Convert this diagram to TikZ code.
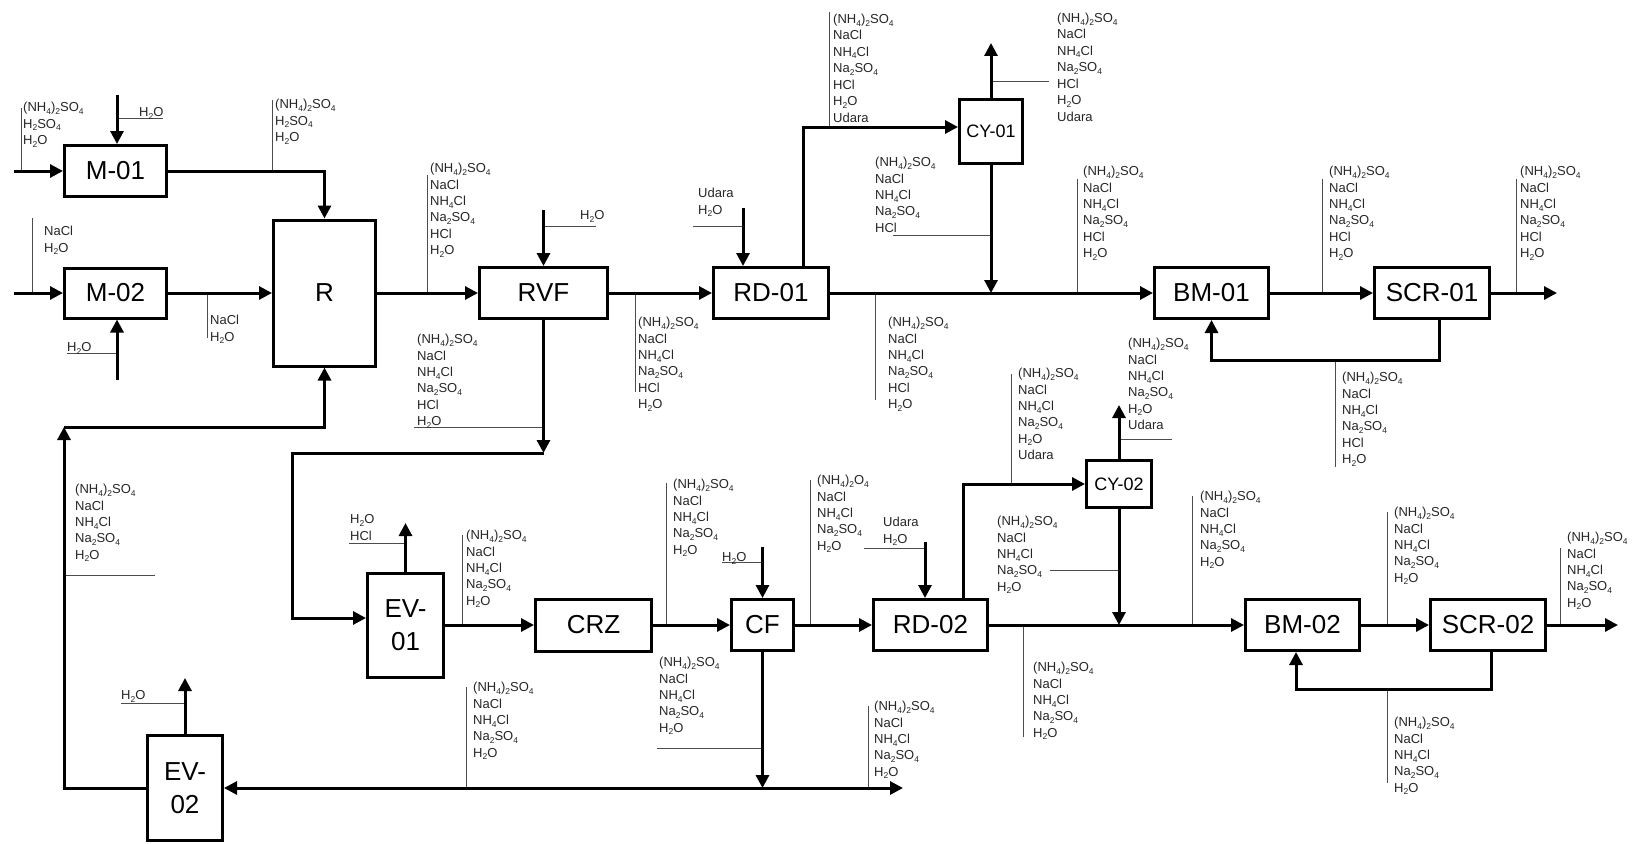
\documentclass[tikz,border=0pt]{standalone}
\usepackage{fontspec}
\setmainfont{Liberation Sans}
\usetikzlibrary{arrows.meta}
\newcommand{\ssb}[1]{\raisebox{-2.6pt}{\fontsize{8.5}{9}\selectfont #1}}
\newcommand{\cAS}{(NH\ssb{4})\ssb{2}SO\ssb{4}}
\newcommand{\cAO}{(NH\ssb{4})\ssb{2}O\ssb{4}}
\newcommand{\cNHCl}{NH\ssb{4}Cl}
\newcommand{\cNaSO}{Na\ssb{2}SO\ssb{4}}
\newcommand{\cHO}{H\ssb{2}O}
\newcommand{\cHSO}{H\ssb{2}SO\ssb{4}}
\newcommand{\stk}[4]{\foreach \t [count=\i] in {#4} {\node[lbl] (#1-\i) at ({#2},{#3+4.6+(\i-1)*16.4}) {\t};}}
\begin{document}
\begin{tikzpicture}[x=1pt,y=-1pt,
  box/.style={draw, line width=3pt, inner sep=0pt, align=center, font=\fontsize{26}{33}\selectfont},
  cy/.style={box, font=\fontsize{18}{20}\selectfont},
  arr/.style={line width=3pt, -{Triangle[length=13pt,width=13pt]}},
  tag/.style={line width=1pt, draw=black!70},
  lbl/.style={anchor=base west, inner sep=0pt, font=\fontsize{13}{15}\selectfont, text=black!85}]
\useasboundingbox[fill=white] (0,0) rectangle (1640,843);

% equipment
\node[box, minimum width=102pt, minimum height=51pt] (M01) at (115.5,171) {M-01};
\node[box, minimum width=102pt, minimum height=50pt] (M02) at (115.5,293) {M-02};
\node[box, minimum width=102pt, minimum height=146pt] (R) at (324.5,293) {R};
\node[box, minimum width=128pt, minimum height=51pt] (RVF) at (543.5,293) {RVF};
\node[box, minimum width=115pt, minimum height=51pt] (RD01) at (771,293) {RD-01};
\node[cy, minimum width=63pt, minimum height=64pt] (CY01) at (991,131.5) {CY-01};
\node[box, minimum width=114pt, minimum height=51pt] (BM01) at (1211.5,293) {BM-01};
\node[box, minimum width=115pt, minimum height=51pt] (SCR01) at (1432,293) {SCR-01};
\node[box, minimum width=76pt, minimum height=104pt] (EV01) at (405.5,625) {EV-\\01};
\node[box, minimum width=116pt, minimum height=52pt] (CRZ) at (593.5,625) {CRZ};
\node[box, minimum width=62pt, minimum height=51pt] (CF) at (762.5,625) {CF};
\node[box, minimum width=114pt, minimum height=51pt] (RD02) at (930.5,625) {RD-02};
\node[cy, minimum width=65pt, minimum height=47pt] (CY02) at (1119,484) {CY-02};
\node[box, minimum width=114pt, minimum height=51pt] (BM02) at (1302.5,625) {BM-02};
\node[box, minimum width=115pt, minimum height=51pt] (SCR02) at (1488,625) {SCR-02};
\node[box, minimum width=75pt, minimum height=105pt] (EV02) at (185,788) {EV-\\02};

% coordinates
\coordinate (in1) at (14,171);
\coordinate (in2) at (14,293);
\coordinate (h1) at (117,95);
\coordinate (h2) at (117,380);
\coordinate (h4) at (543.5,210);
\coordinate (u1) at (743,208);
\coordinate (rd1t) at (803,127);
\coordinate (cy1o) at (991,43);
\coordinate (cy1j) at (991,293);
\coordinate (o1) at (1557,293);
\coordinate (l1a) at (1439,360);
\coordinate (rv) at (543.5,453);
\coordinate (k1) at (292,453);
\coordinate (k2) at (292,618);
\coordinate (e1o) at (405.5,523);
\coordinate (h3) at (762.5,547);
\coordinate (u2) at (925,542);
\coordinate (rd2t) at (963,484);
\coordinate (cy2o) at (1119,405);
\coordinate (cy2j) at (1119,625);
\coordinate (o2) at (1618,625);
\coordinate (l2a) at (1491,689);
\coordinate (l2b) at (1296,689);
\coordinate (cfj) at (762.5,788);
\coordinate (botR) at (903,788);
\coordinate (e2o) at (185,678);
\coordinate (lc) at (64,427);

% tag lines
\draw[tag] (21,108) -- (21,171);
\draw[tag] (117,118) -- (163,118);
\draw[tag] (272,100) -- (272,171);
\draw[tag] (32,218) -- (32,293);
\draw[tag] (67,353) -- (117,353);
\draw[tag] (207,293) -- (207,338);
\draw[tag] (427,175) -- (427,293);
\draw[tag] (544,226) -- (596,226);
\draw[tag] (693,226) -- (743,226);
\draw[tag] (635,293) -- (635,392);
\draw[tag] (414,427) -- (544,427);
\draw[tag] (829,12) -- (829,127);
\draw[tag] (991,81) -- (1049,81);
\draw[tag] (893,235) -- (991,235);
\draw[tag] (875,293) -- (875,400);
\draw[tag] (1077,179) -- (1077,293);
\draw[tag] (1322,179) -- (1322,293);
\draw[tag] (1516,179) -- (1516,293);
\draw[tag] (1335,360) -- (1335,467);
\draw[tag] (64,575) -- (155,575);
\draw[tag] (121,703) -- (185,703);
\draw[tag] (349,543) -- (406,543);
\draw[tag] (462,535) -- (462,625);
\draw[tag] (466,687) -- (466,788);
\draw[tag] (666,483) -- (666,625);
\draw[tag] (722,562) -- (763,562);
\draw[tag] (657,748) -- (763,748);
\draw[tag] (810,480) -- (810,625);
\draw[tag] (868,706) -- (868,788);
\draw[tag] (864,548) -- (925,548);
\draw[tag] (1011,374) -- (1011,484);
\draw[tag] (1119,439) -- (1172,439);
\draw[tag] (1050,570) -- (1119,570);
\draw[tag] (1023,625) -- (1023,737);
\draw[tag] (1192,496) -- (1192,625);
\draw[tag] (1387,512) -- (1387,625);
\draw[tag] (1560,548) -- (1560,625);
\draw[tag] (1387,689) -- (1387,783);

% flows
\draw[arr] (in1) -- (M01.west);
\draw[arr] (h1) -- (h1 |- M01.north);
\draw[arr] (M01.east) -| (R.north);
\draw[arr] (in2) -- (M02.west);
\draw[arr] (h2) -- (h2 |- M02.south);
\draw[arr] (M02.east) -- (R.west);
\draw[arr] (R.east) -- (RVF.west);
\draw[arr] (h4) -- (RVF.north);
\draw[arr] (RVF.east) -- (RD01.west);
\draw[arr] (u1) -- (u1 |- RD01.north);
\draw[arr] (rd1t |- RD01.north) -- (rd1t) -- (rd1t -| CY01.west);
\draw[arr] (CY01.north) -- (cy1o);
\draw[arr] (CY01.south) -- (cy1j);
\draw[arr] (RD01.east) -- (BM01.west);
\draw[arr] (BM01.east) -- (SCR01.west);
\draw[arr] (SCR01.east) -- (o1);
\draw[arr] (l1a |- SCR01.south) -- (l1a) -| (BM01.south);
\draw[arr] (RVF.south) -- (rv);
\draw[arr] (rv) -- (k1) -- (k2) -- (k2 -| EV01.west);
\draw[arr] (EV01.north) -- (e1o);
\draw[arr] (EV01.east) -- (CRZ.west);
\draw[arr] (CRZ.east) -- (CF.west);
\draw[arr] (h3) -- (CF.north);
\draw[arr] (CF.east) -- (RD02.west);
\draw[arr] (u2) -- (u2 |- RD02.north);
\draw[arr] (rd2t |- RD02.north) -- (rd2t) -- (CY02.west);
\draw[arr] (CY02.north) -- (cy2o);
\draw[arr] (CY02.south) -- (cy2j);
\draw[arr] (RD02.east) -- (BM02.west);
\draw[arr] (BM02.east) -- (SCR02.west);
\draw[arr] (SCR02.east) -- (o2);
\draw[arr] (l2a |- SCR02.south) -- (l2a) -- (l2b) -- (l2b |- BM02.south);
\draw[arr] (CF.south) -- (cfj);
\draw[line width=3pt, {Triangle[length=13pt,width=13pt]}-{Triangle[length=13pt,width=13pt]}] (EV02.east) -- (botR);
\draw[arr] (EV02.north) -- (e2o);
\draw[arr] (EV02.west) -| (lc);
\draw[arr] (lc) -| (R.south);

% stream labels
\stk{s1}{23}{107}{\cAS,\cHSO,\cHO}
\stk{s2}{139}{112}{\cHO}
\stk{s3}{275}{104}{\cAS,\cHSO,\cHO}
\stk{s4}{44}{231}{NaCl,\cHO}
\stk{s5}{67}{347}{\cHO}
\stk{s6}{210}{320}{NaCl,\cHO}
\stk{s7}{430}{168}{\cAS,NaCl,\cNHCl,\cNaSO,HCl,\cHO}
\stk{s8}{580}{215}{\cHO}
\stk{s9}{698}{193}{Udara,\cHO}
\stk{s10}{638}{322}{\cAS,NaCl,\cNHCl,\cNaSO,HCl,\cHO}
\stk{s11}{417}{339}{\cAS,NaCl,\cNHCl,\cNaSO,HCl,\cHO}
\stk{s12}{833}{19}{\cAS,NaCl,\cNHCl,\cNaSO,HCl,\cHO,Udara}
\stk{s13}{1057}{18}{\cAS,NaCl,\cNHCl,\cNaSO,HCl,\cHO,Udara}
\stk{s14}{875}{162}{\cAS,NaCl,\cNHCl,\cNaSO,HCl}
\stk{s15}{888}{322}{\cAS,NaCl,\cNHCl,\cNaSO,HCl,\cHO}
\stk{s16}{1083}{171}{\cAS,NaCl,\cNHCl,\cNaSO,HCl,\cHO}
\stk{s17}{1329}{171}{\cAS,NaCl,\cNHCl,\cNaSO,HCl,\cHO}
\stk{s18}{1520}{171}{\cAS,NaCl,\cNHCl,\cNaSO,HCl,\cHO}
\stk{s19}{1342}{377}{\cAS,NaCl,\cNHCl,\cNaSO,HCl,\cHO}
\stk{s20}{75}{489}{\cAS,NaCl,\cNHCl,\cNaSO,\cHO}
\stk{s21}{121}{695}{\cHO}
\stk{s22}{350}{519}{\cHO,HCl}
\stk{s23}{466}{535}{\cAS,NaCl,\cNHCl,\cNaSO,\cHO}
\stk{s24}{473}{687}{\cAS,NaCl,\cNHCl,\cNaSO,\cHO}
\stk{s25}{673}{484}{\cAS,NaCl,\cNHCl,\cNaSO,\cHO}
\stk{s26}{722}{557}{\cHO}
\stk{s27}{659}{662}{\cAS,NaCl,\cNHCl,\cNaSO,\cHO}
\stk{s28}{817}{480}{\cAO,NaCl,\cNHCl,\cNaSO,\cHO}
\stk{s29}{874}{706}{\cAS,NaCl,\cNHCl,\cNaSO,\cHO}
\stk{s30}{883}{522}{Udara,\cHO}
\stk{s31}{1018}{373}{\cAS,NaCl,\cNHCl,\cNaSO,\cHO,Udara}
\stk{s32}{1128}{343}{\cAS,NaCl,\cNHCl,\cNaSO,\cHO,Udara}
\stk{s33}{997}{521}{\cAS,NaCl,\cNHCl,\cNaSO,\cHO}
\stk{s34}{1033}{667}{\cAS,NaCl,\cNHCl,\cNaSO,\cHO}
\stk{s35}{1200}{496}{\cAS,NaCl,\cNHCl,\cNaSO,\cHO}
\stk{s36}{1394}{512}{\cAS,NaCl,\cNHCl,\cNaSO,\cHO}
\stk{s37}{1567}{537}{\cAS,NaCl,\cNHCl,\cNaSO,\cHO}
\stk{s38}{1394}{722}{\cAS,NaCl,\cNHCl,\cNaSO,\cHO}
\end{tikzpicture}
\end{document}
